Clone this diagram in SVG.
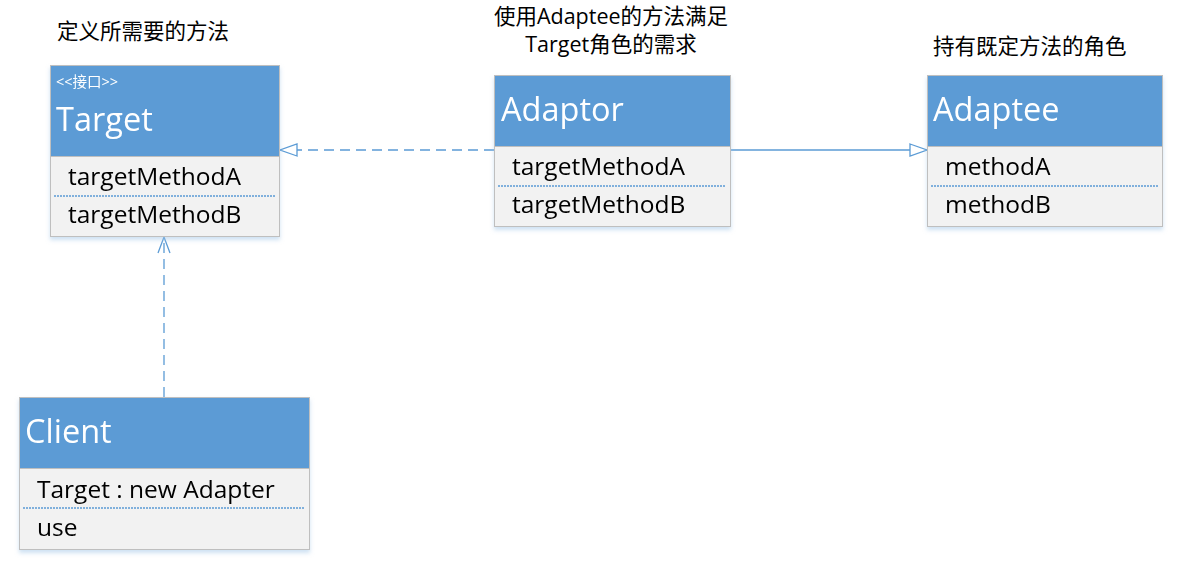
<svg xmlns="http://www.w3.org/2000/svg" width="1200" height="567" viewBox="0 0 1200 567">
<style>
.hdr{fill:#5B9BD5;stroke:#BFBFBF;stroke-width:1}
.body{fill:#F2F2F2;stroke:#BFBFBF;stroke-width:1}
.sep{stroke:#5B9BD5;stroke-width:1.5;stroke-dasharray:2,1}
.title{font-family:"Open Sans","Noto Sans",sans-serif;font-size:32.5px;fill:#fff}
.item{font-family:"Open Sans","Noto Sans",sans-serif;font-size:24.5px;fill:#000}
.note{font-family:"Open Sans","Noto Sans CJK SC",sans-serif;font-size:21.5px;fill:#000}
.stereo{font-family:"Open Sans","Noto Sans CJK SC",sans-serif;font-size:14.5px;fill:#fff}
.conn{fill:none;stroke:#5B9BD5;stroke-width:1.3}
</style>
<defs>
<filter id="sh" x="-5%" y="-5%" width="110%" height="115%">
<feDropShadow dx="0" dy="3" stdDeviation="2" flood-color="#9DC3E6" flood-opacity="0.5"/>
</filter>
<marker id="tri" markerWidth="20" markerHeight="14" refX="18" refY="7" orient="auto" markerUnits="userSpaceOnUse">
<path d="M1,1 L18,7 L1,13 Z" fill="#fff" stroke="#5B9BD5" stroke-width="1.3"/>
</marker>
<marker id="open" markerWidth="20" markerHeight="14" refX="17" refY="7" orient="auto" markerUnits="userSpaceOnUse">
<path d="M1,1 L17,7 L1,13" fill="none" stroke="#5B9BD5" stroke-width="1.3"/>
</marker>
</defs>

<text class="note" x="57" y="39">定义所需要的方法</text>
<text class="note" x="611" y="24" text-anchor="middle">使用Adaptee的方法满足</text>
<text class="note" x="611" y="52" text-anchor="middle">Target角色的需求</text>
<text class="note" x="933" y="54">持有既定方法的角色</text>

<g id="connectors">
<line class="conn" x1="494" y1="150" x2="280" y2="150" stroke-dasharray="10,6" marker-end="url(#tri)"/>
<line class="conn" x1="730" y1="150" x2="927" y2="150" marker-end="url(#tri)"/>
<line class="conn" x1="164" y1="397" x2="164" y2="237" stroke-dasharray="10,6" marker-end="url(#open)"/>
</g>

<g id="Target" filter="url(#sh)">
<rect class="body" x="50.5" y="156.5" width="229" height="80"/>
<rect class="hdr" x="50.5" y="65.5" width="229" height="91"/>
<text class="stereo" x="56" y="87">&lt;&lt;接口&gt;&gt;</text>
<text class="title" x="56" y="131">Target</text>
<text class="item" x="68" y="185">targetMethodA</text>
<line class="sep" x1="54" y1="196" x2="275" y2="196"/>
<text class="item" x="68" y="223">targetMethodB</text>
</g>

<g id="Adaptor" filter="url(#sh)">
<rect class="body" x="494.5" y="146.5" width="236" height="80"/>
<rect class="hdr" x="494.5" y="75.5" width="236" height="71"/>
<text class="title" x="501" y="121">Adaptor</text>
<text class="item" x="512" y="175">targetMethodA</text>
<line class="sep" x1="498" y1="186" x2="726" y2="186"/>
<text class="item" x="512" y="213">targetMethodB</text>
</g>

<g id="Adaptee" filter="url(#sh)">
<rect class="body" x="927.5" y="146.5" width="235" height="80"/>
<rect class="hdr" x="927.5" y="75.5" width="235" height="71"/>
<text class="title" x="933" y="121">Adaptee</text>
<text class="item" x="945" y="175">methodA</text>
<line class="sep" x1="931" y1="186" x2="1158" y2="186"/>
<text class="item" x="945" y="213">methodB</text>
</g>

<g id="Client" filter="url(#sh)">
<rect class="body" x="19.5" y="468.5" width="290" height="81"/>
<rect class="hdr" x="19.5" y="397.5" width="290" height="71"/>
<text class="title" x="25" y="443">Client</text>
<text class="item" x="37" y="498">Target : new Adapter</text>
<line class="sep" x1="23" y1="508" x2="305" y2="508"/>
<text class="item" x="37" y="536">use</text>
</g>
</svg>
